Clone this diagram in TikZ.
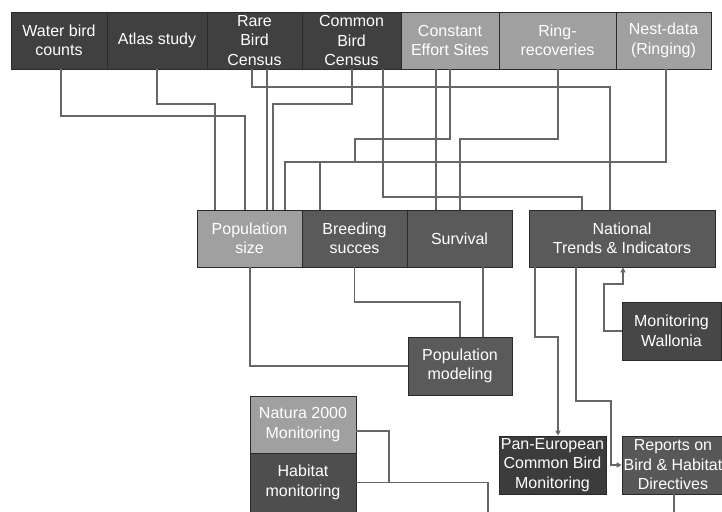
\documentclass[tikz,border=0pt]{standalone}
\usepackage{fontspec}
\setmainfont{Liberation Sans}
\usetikzlibrary{arrows.meta}
\definecolor{darkone}{HTML}{404040}
\definecolor{darktwo}{HTML}{5A5A5A}
\definecolor{darkwal}{HTML}{474747}
\definecolor{darkpan}{HTML}{3C3C3C}
\definecolor{darkrep}{HTML}{585858}
\definecolor{darkhab}{HTML}{4E4E4E}
\definecolor{lightbox}{HTML}{A0A0A0}
\definecolor{boxedge}{HTML}{2A2A2A}
\definecolor{linegray}{HTML}{666666}
\tikzset{
  box/.style={draw=boxedge, line width=0.8pt, text=white, align=center,
    inner sep=0pt, font=\fontsize{16pt}{19.5pt}\selectfont},
  rowbox/.style={box, minimum height=57pt},
  link/.style={draw=linegray, line width=1.4pt},
  arrowlink/.style={link, -{Triangle[length=5pt,width=5pt]}}
}
\begin{document}
\begin{tikzpicture}[x=1pt, y=-1pt]
\useasboundingbox (0,0) rectangle (722,511);
\fill[white] (0,0) rectangle (722,511);
\node[rowbox, fill=darkone, minimum width=96pt] (wbc) at (59,40.5) {Water bird\\counts};
\node[rowbox, fill=darkone, minimum width=100pt] (atlas) at (157,40.5) {Atlas study};
\node[rowbox, fill=darkone, minimum width=95pt] (rbc) at (254.5,40.5) {Rare\\Bird\\Census};
\node[rowbox, fill=darkone, minimum width=99pt] (cbc) at (351.5,40.5) {Common\\Bird\\Census};
\node[rowbox, fill=lightbox, minimum width=98pt] (ces) at (450,40.5) {Constant\\Effort Sites};
\node[rowbox, fill=lightbox, minimum width=117pt] (ring) at (557.5,40.5) {Ring-\\recoveries};
\node[rowbox, fill=lightbox, minimum width=95pt] (nest) at (663.5,40.5) {Nest-data\\(Ringing)};
\node[rowbox, fill=lightbox, minimum width=105pt] (pops) at (249.5,238.5) {Population\\size};
\node[rowbox, fill=darktwo, minimum width=105pt] (breed) at (354.5,238.5) {Breeding\\succes};
\node[rowbox, fill=darktwo, minimum width=105pt] (surv) at (459.5,238.5) {Survival};
\node[rowbox, fill=darktwo, minimum width=186pt] (trends) at (622,238.5) {National\\Trends \& Indicators};
\node[box, fill=darktwo, minimum width=104pt, minimum height=58pt] (model) at (460,366) {Population\\modeling};
\node[box, fill=darkwal, minimum width=99pt, minimum height=58pt] (wall) at (671.5,331) {Monitoring\\Wallonia};
\node[rowbox, fill=lightbox, minimum width=106pt] (natura) at (303,424.5) {Natura 2000\\Monitoring};
\node[box, fill=darkhab, minimum width=106pt, minimum height=59pt] (habitat) at (303,482.5) {Habitat\\monitoring};
\node[box, fill=darkpan, minimum width=107pt, minimum height=58pt] (pan) at (552.5,465) {Pan-European\\Common Bird\\Monitoring};
\node[box, fill=darkrep, minimum width=102pt, minimum height=58pt] (reports) at (673,465) {Reports on\\Bird \& Habitat\\Directives};
\coordinate (bus) at (320,162);
\coordinate (hjoin) at (389,482.5);
\coordinate (offhab) at (488,520);
\coordinate (offrep) at (674,520);
\draw[link] (wbc.south -| 61,0) |- (245,116) -- (pops.north -| 245,0);
\draw[link] (atlas.south -| 157,0) |- (215,104) -- (pops.north -| 215,0);
\draw[link] (rbc.south -| 267,0) -- (pops.north -| 267,0);
\draw[link] (rbc.south -| 252,0) |- (610,87) -- (trends.north -| 610,0);
\draw[link] (cbc.south -| 352,0) |- (273,104) -- (pops.north -| 273,0);
\draw[link] (cbc.south -| 383,0) |- (582,197) -- (trends.north -| 582,0);
\draw[link] (ces.south -| 436,0) -- (surv.north -| 436,0);
\draw[link] (ces.south -| 450,0) |- (355,139) -- (bus -| 355,0);
\draw[link] (nest.south -| 666,0) |- (285,162) -- (pops.north -| 285,0);
\draw[link] (bus) -- (breed.north -| 320,0);
\draw[link] (ring.south -| 558,0) |- (460,139) -- (surv.north -| 460,0);
\draw[link] (pops.south -| 250,0) |- (model.west);
\draw[link] (breed.south) |- (460,302) -- (model.north);
\draw[link] (surv.south -| 483,0) -- (model.north -| 483,0);
\draw[arrowlink] (wall.west) -| (604,284) -| (trends.south -| 623,0);
\draw[arrowlink] (trends.south -| 535,0) |- (558,337) -- (pan.north -| 558,0);
\draw[arrowlink] (trends.south -| 576,0) |- (611,401) |- (reports.west);
\draw[link] (natura.east |- 0,431) -| (hjoin);
\draw[link] (habitat.east) -| (offhab);
\draw[link] (reports.south -| 674,0) -- (offrep);
\end{tikzpicture}
\end{document}
